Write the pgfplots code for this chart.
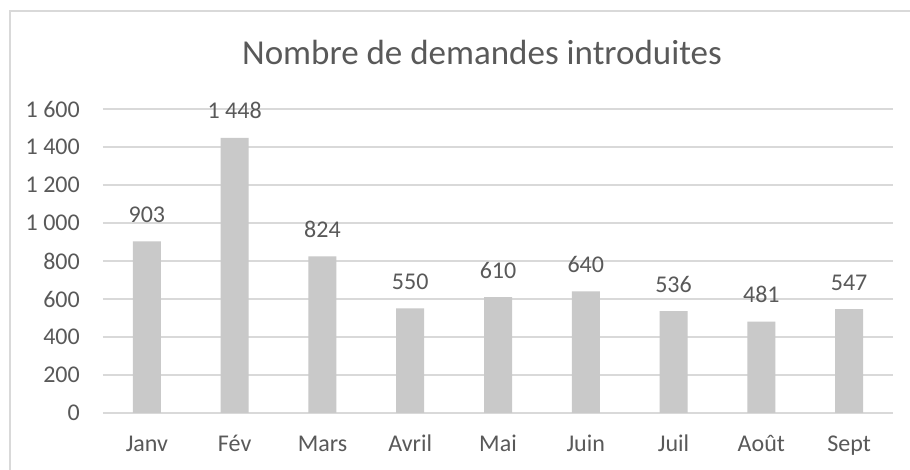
\documentclass[border=0pt]{standalone}
\usepackage{pgfplots}
\pgfplotsset{compat=1.18}
\usepackage{fontspec}
\setmainfont{Carlito}
\definecolor{txt}{HTML}{595959}
\definecolor{barc}{HTML}{C9C9C9}
\definecolor{gridc}{HTML}{D9D9D9}
\begin{document}
\begin{tikzpicture}[x=1pt,y=1pt]
\useasboundingbox (0,0) rectangle (910,470);
\fill[white] (0,0) rectangle (910,470);
\draw[gridc, line width=1.3pt] (10,-10) -- (10,459) -- (920,459);
\node[txt, font=\fontsize{35}{40}\selectfont, anchor=base, inner sep=0pt] at (482,405) {Nombre de demandes introduites};
\begin{axis}[
  at={(103pt,57pt)}, anchor=south west,
  scale only axis, width=790pt, height=304pt,
  xmin=-0.5, xmax=8.5, ymin=0, ymax=1600,
  ytick={0,200,...,1600},
  xtick=data,
  xticklabels={Janv,Fév,Mars,Avril,Mai,Juin,Juil,Août,Sept},
  axis line style={draw=none},
  major tick length=0pt,
  ymajorgrids, grid style={gridc, line width=1.3pt},
  tick label style={txt, font=\fontsize{24}{28}\selectfont},
  yticklabel style={anchor=east, inner sep=0pt, xshift=-23pt},
  xticklabel style={anchor=base, inner sep=0pt, yshift=-39pt},
  /pgf/number format/.cd, 1000 sep={\ }, assume math mode=true,
  /pgfplots/.cd,
  ybar, bar width=28pt,
  nodes near coords,
  every node near coord/.append style={txt, font=\fontsize{24}{28}\selectfont, anchor=base, inner sep=0pt, yshift=19pt},
  clip=false,
]
\addplot[fill=barc, draw=none] coordinates {(0,903) (1,1448) (2,824) (3,550) (4,610) (5,640) (6,536) (7,481) (8,547)};
\end{axis}
\end{tikzpicture}
\end{document}
